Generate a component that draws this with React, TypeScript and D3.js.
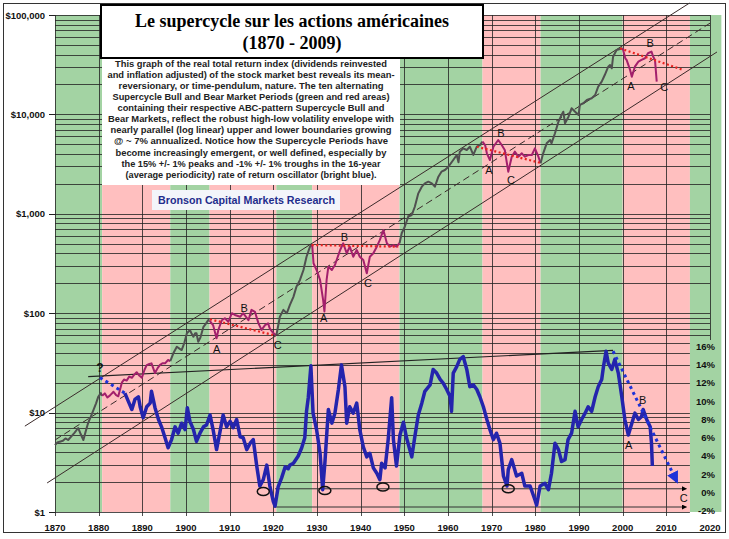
import React from 'react';
import * as d3 from 'd3';

// ---------- DATA ----------
const decadeYears = [1870, 1880, 1890, 1900, 1910, 1920, 1930, 1940, 1950, 1960, 1970, 1980, 1990, 2000, 2010, 2020];
const dollarTicks = [1, 10, 100, 1000, 10000, 100000];
const dollarLabels = ['$1', '$10', '$100', '$1,000', '$10,000', '$100,000'];
const pctTicks = [-2, 0, 2, 4, 6, 8, 10, 12, 14, 16];

// supercycle periods: [start, end, type]
const periods: [number, number, string][] = [
  [1870, 1880.8, 'bull'], [1880.8, 1896.4, 'bear'], [1896.4, 1905.4, 'bull'], [1905.4, 1920.7, 'bear'],
  [1920.7, 1928.9, 'bull'], [1928.9, 1948.9, 'bear'], [1948.9, 1967.9, 'bull'], [1967.9, 1981.2, 'bear'],
  [1981.2, 2000, 'bull'], [2000, 2015.4, 'bear'], [2015.4, 2022.6, 'bull'],
];

// real total return index (log scale)
const priceSeries: [number, number][] = [
  [1870, 4.7], [1870.5, 5.0], [1871.1, 5.1], [1871.8, 5.2], [1872.4, 5.5], [1873, 5.3], [1873.8, 5.8], [1874.5, 6.3],
  [1875.3, 7.0], [1875.8, 6.2], [1876.5, 5.3], [1877, 6.4], [1877.6, 7.9], [1878.2, 9.1], [1878.8, 10.6], [1879.4, 12.4],
  [1879.9, 14.4], [1880.5, 15.7], [1880.8, 14.8],
  [1881.4, 15.6], [1882, 14.2], [1882.6, 14.9], [1883.4, 16.2], [1884, 15.0], [1884.5, 14.6], [1885.3, 20], [1885.8, 21.5],
  [1886.4, 21], [1887, 23], [1887.6, 22.4], [1888.2, 24.2], [1888.7, 25.5], [1889.3, 23.6], [1889.9, 22.4], [1890.5, 27],
  [1891, 30], [1891.6, 30.8], [1892.1, 31.3], [1892.9, 25], [1893.5, 28], [1894, 30], [1894.6, 31.4], [1895.2, 31.3],
  [1895.9, 33.8], [1896.4, 33],
  [1897.1, 39.5], [1897.9, 46], [1898.5, 44], [1899, 42.6], [1899.6, 50], [1900.2, 62.8], [1900.9, 67.8], [1901.3, 62],
  [1901.7, 58], [1902.1, 63], [1902.4, 62.8], [1902.8, 51.7], [1903.3, 57], [1904, 73], [1904.6, 79], [1905.1, 85.5], [1905.4, 84],
  [1906.2, 76], [1907, 56], [1907.4, 67.8], [1908.2, 85], [1908.9, 89], [1909.7, 82], [1910.5, 100], [1911.2, 96],
  [1912.4, 92], [1913.1, 100], [1914.3, 85], [1915, 108], [1915.8, 103], [1916.6, 79], [1917.3, 68], [1918.1, 76],
  [1918.8, 79], [1919.2, 70], [1920, 63], [1920.7, 60],
  [1921.5, 92], [1922.3, 108], [1923.1, 100], [1923.8, 121], [1924.6, 146], [1925.3, 185], [1926.1, 216], [1926.9, 272],
  [1927.6, 370], [1928.4, 467], [1928.9, 490],
  [1929.2, 318], [1929.9, 272], [1930.7, 216], [1931.4, 136], [1931.7, 104], [1932.2, 216], [1932.6, 294], [1933.4, 272],
  [1934.1, 305], [1934.5, 343], [1935.3, 432], [1936, 505], [1936.8, 401], [1937.5, 467], [1938.3, 370], [1939.1, 432],
  [1939.8, 370], [1940.6, 343], [1941.4, 252], [1942.1, 370], [1942.9, 401], [1943.7, 467], [1944.4, 546], [1945.2, 687],
  [1946, 505], [1946.7, 467], [1947.5, 485], [1948.2, 467], [1948.9, 505],
  [1949.4, 637], [1950.1, 741], [1950.9, 935], [1951.7, 972], [1952.4, 1178], [1953.2, 1606], [1954, 1874], [1954.7, 2027],
  [1955.5, 2104], [1956.3, 2027], [1957, 1874], [1957.8, 2362], [1958.5, 2652], [1959.3, 2758], [1960.1, 2978],
  [1961.2, 3477], [1962, 3906], [1962.4, 3300], [1962.7, 4217], [1963.5, 4560], [1964.3, 4385], [1965, 4731], [1965.8, 3906],
  [1966.6, 4731], [1967.3, 4920], [1967.9, 5312],
  [1968.5, 4920], [1968.9, 4060], [1969.6, 3477], [1970.4, 4731], [1971.5, 5528], [1972.3, 4920], [1973, 4385],
  [1973.8, 2652], [1974.6, 3755], [1975.3, 4217], [1976.1, 3755], [1976.9, 4060], [1977.6, 3755], [1978.4, 3906],
  [1979.2, 3906], [1979.9, 4560], [1980.7, 3755], [1981.2, 3222],
  [1981.8, 4060], [1982.6, 5117], [1983.4, 5528], [1983.7, 5117], [1984.5, 6457], [1985.3, 8453], [1986, 9863],
  [1986.4, 10650], [1986.8, 8131], [1987.6, 9480], [1988.3, 11520], [1989.1, 10650], [1989.9, 9863], [1990.2, 12450],
  [1991, 12950], [1991.8, 13960], [1992.9, 14520], [1993.7, 15670], [1994.4, 19000], [1995.2, 21330], [1995.9, 24900],
  [1996.7, 30200], [1997.1, 31400], [1997.5, 29100], [1997.8, 38000], [1998.6, 44400], [2000, 46200],
  [2000.3, 41200], [2000.6, 36700], [2000.9, 35300], [2001.7, 28000], [2002.1, 23900], [2002.8, 30200], [2003.6, 33900],
  [2004.3, 35300], [2005.1, 36700], [2005.8, 41200], [2006.6, 42800], [2007, 38000], [2007.4, 35300], [2007.8, 21330],
];

// 16-year rate of return oscillator (%)
const oscillator: [number, number][] = [
  [1886, 10.5], [1886.8, 9.6], [1887.6, 8.7], [1888.3, 9.8], [1889.1, 10.1], [1889.5, 9.0], [1890.2, 7.8], [1891, 9.0],
  [1891.8, 9.4], [1892.1, 10.7], [1892.9, 8.9], [1893.7, 7.6], [1894.4, 6.8], [1895.2, 5.6], [1895.9, 4.5], [1896.7, 5.4],
  [1897.5, 6.8], [1898.2, 6.1], [1899, 7.2], [1899.8, 6.5], [1900.3, 8.9], [1900.9, 7.4], [1901.7, 6.5], [1902.4, 5.2],
  [1903.2, 6.1], [1904, 6.8], [1904.7, 7.0], [1905.5, 8.1], [1906.2, 6.5], [1907, 4.3], [1907.8, 6.3], [1908.5, 8.1],
  [1909.3, 6.8], [1910.1, 7.4], [1910.8, 6.7], [1911.6, 7.6], [1912.4, 5.7], [1913.1, 5.6], [1913.9, 4.3], [1914.7, 5.0],
  [1915.4, 5.4], [1916.2, 2.5], [1916.9, 0.3], [1917.7, 1.0], [1918.5, 2.6], [1919.2, 0.3], [1920, -1.4], [1920.4, -1.9],
  [1921.1, 0.2], [1921.9, 1.2], [1922.7, 2.4], [1923.4, 2.2], [1923.8, 2.6], [1924.6, 2.8], [1925.7, 3.6], [1926.5, 4.5],
  [1927.2, 5.6], [1927.6, 8.5], [1928, 10.0], [1928.6, 13.5], [1929.1, 8.3], [1929.9, 6.5], [1930.7, 3.9], [1931.3, -0.1],
  [1931.8, 2.8], [1932.6, 8.7], [1933.4, 7.2], [1934.1, 8.3], [1934.9, 10.9], [1935.6, 13.6], [1936.4, 11.2], [1936.8, 7.2],
  [1937.5, 9.0], [1938.3, 8.3], [1939.1, 9.4], [1939.8, 6.5], [1940.6, 4.6], [1941.4, 3.5], [1942.1, 3.9], [1942.9, 2.3],
  [1943.7, 1.7], [1944.4, 1.0], [1944.8, 2.8], [1945.6, 2.3], [1946.3, 5.4], [1947.1, 10.0], [1947.5, 5.4], [1948.2, 2.5],
  [1949, 5.9], [1949.8, 7.3], [1950.5, 5.6], [1951.7, 3.5], [1952.4, 5.7], [1953.2, 8.1], [1954, 9.4], [1954.7, 10.7],
  [1955.9, 11.4], [1956.6, 13.1], [1957.4, 12.7], [1958.2, 12.0], [1958.9, 11.6], [1959.7, 10.9], [1960.5, 10.1],
  [1960.8, 8.5], [1961.2, 12.7], [1962, 13.4], [1962.7, 14.2], [1963.5, 14.5], [1964.3, 13.1], [1965, 11.2], [1965.8, 11.4],
  [1966.6, 10.9], [1967.3, 10.1], [1968.1, 9.0], [1968.9, 7.6], [1969.6, 6.5], [1970.4, 5.4], [1971.1, 6.1], [1971.9, 5.0],
  [1972.7, 1.4], [1973.5, 0.3], [1973.8, 2.1], [1974.6, 3.2], [1975.7, 1.4], [1976.9, 1.7], [1977.6, 0.3], [1978.8, 0.3],
  [1979.9, -1.2], [1980.3, -1.8], [1981.1, 0.3], [1982.2, 0.6], [1983, -0.1], [1983.7, 1.7], [1984.5, 5.0], [1985.3, 4.3],
  [1986, 3.0], [1986.8, 3.2], [1987.5, 5.4], [1988.3, 6.1], [1989.1, 8.5], [1989.8, 6.8], [1990.6, 7.6], [1991.4, 8.3],
  [1992.1, 9.0], [1992.9, 8.5], [1993.7, 10.1], [1994.4, 11.2], [1995.2, 12.0], [1995.6, 13.4], [1996.2, 15.1],
  [1996.7, 13.8], [1997.5, 13.1], [1998.2, 14.2], [1999, 12.7], [1999.8, 10.1], [2000.5, 7.6], [2001.3, 5.9],
  [2002.1, 7.2], [2002.8, 8.3], [2003.6, 7.6], [2004.3, 7.9], [2004.7, 8.7], [2005.5, 7.6], [2006.3, 6.8], [2006.6, 5.0],
  [2006.8, 2.5],
];

// channel lines (log-linear envelope ~7%/yr)
const channelUpper: [number, number][] = [[1863.1, 7.31], [2015.3, 131800]];
const channelMid: [number, number][] = [[1870, 5.3], [2020, 82800]];
const channelLower: [number, number][] = [[1868.2, 1.96], [2021.6, 42460]];

// red dotted bear-market lines
const bearLines: [number, number][][] = [
  [[1905.5, 86.9], [1919.9, 60.4]],
  [[1928.8, 485], [1948.6, 467]],
  [[1966.6, 4731], [1981.5, 3222]],
  [[1999.4, 46200], [2013.9, 28000]],
];

const oscTrend: [number, number][] = [[1877.6, 12.3], [1997.8, 15.2]];
const oscDotStart: [number, number][] = [[1880.3, 12.2], [1886, 10.5]];
const oscDotEnd: [number, number][] = [[1997.8, 15.1], [2012.4, 0.8]];
const troughLines: [number, number][][] = [[[1920.4, 0], [2014.6, 0]], [[1920.4, -2], [2014.6, -2]]];
const troughCircles: [number, number][] = [[1917.7, -0.3], [1931.8, -0.2], [1945.1, 0.2], [1973.8, 0]];

const priceLabels: [number, number, string][] = [
  [1907.0, 43.3, 'A'], [1913.3, 112, 'B'], [1921.0, 48.4, 'C'],
  [1931.5, 89.5, 'A'], [1936.3, 584, 'B'], [1941.7, 200, 'C'],
  [1969.4, 2760, 'A'], [1972.1, 6500, 'B'], [1974.4, 2188, 'C'],
  [2001.9, 19450, 'A'], [2006.3, 51900, 'B'], [2009.5, 19000, 'C'],
];
const oscLabels: [number, number, string][] = [[2001.4, 4.8, 'A'], [2004.6, 9.7, 'B'], [2014, -1.0, 'C']];
const questionMark: [number, number] = [1880.3, 27.9];

const titleLines = ['Le supercycle sur les actions américaines', '(1870 - 2009)'];
const paragraph = [
  'This graph of the real total return index (dividends reinvested',
  'and inflation adjusted) of the stock market best reveals its mean-',
  'reversionary, or time-pendulum, nature.  The ten alternating',
  'Supercycle Bull and Bear Market Periods (green and red areas)',
  'containing their respective ABC-pattern Supercycle Bull and',
  'Bear Markets, reflect the robust high-low volatility envelope with',
  'nearly parallel (log linear) upper and lower boundaries growing',
  '@  ~ 7% annualized.  Notice how  the Supercycle Periods have',
  'become increasingly emergent, or well defined, especially by',
  'the 15% +/- 1% peaks and -1% +/- 1% troughs in the 16-year',
  '(average periodicity) rate of return oscillator (bright blue).',
];
const paragraphWidths = [272, 287, 265, 277, 267, 286, 281, 274, 271, 259, 251];
const creditText = 'Bronson Capital Markets Research';

// ---------- COMPONENT ----------
export default function App() {
  const W = 729, H = 539;
  const x = d3.scaleLinear().domain([1870, 2020]).range([55, 710]);
  const y = d3.scaleLog().domain([1, 100000]).range([512, 15]);
  const yp = d3.scaleLinear().domain([-2, 16]).range([507, 343]);
  const priceLine = d3.line<[number, number]>().x(d => x(d[0])).y(d => y(d[1]));
  const pctLine = d3.line<[number, number]>().x(d => x(d[0])).y(d => yp(d[1]));
  const crisp = (v: number) => Math.round(v) + 0.5;

  const green = '#a3d3a3';
  const pink = '#ffbfbf';
  const gridC = '#222';
  const font = 'Arial, "Liberation Sans", sans-serif';

  // horizontal log gridlines
  const hGrid: number[] = [];
  for (let e = 0; e < 5; e++) for (let k = 1; k < 10; k++) hGrid.push(k * Math.pow(10, e));
  hGrid.push(100000);

  // price segments split by periods
  const breaks = [1880.8, 1896.4, 1905.4, 1920.7, 1928.9, 1948.9, 1967.9, 1981.2, 2000, 2100];
  const segments: { pts: [number, number][]; bear: boolean }[] = [];
  let start = 1869;
  breaks.forEach((b, i) => {
    const pts = priceSeries.filter(p => p[0] >= start && p[0] <= b);
    segments.push({ pts, bear: i % 2 === 1 });
    start = b;
  });

  const xR = x(2015.4);

  return (
    <svg width={W} height={H} style={{ position: 'absolute', left: 0, top: 0, background: '#fff' }}
      fontFamily={font}>
      <defs>
        <marker id="arrBlack" viewBox="0 0 10 10" refX="9" refY="5" markerWidth="5" markerHeight="5" orient="auto">
          <path d="M0,0 L10,5 L0,10 z" fill="#000" />
        </marker>
        <marker id="arrBlue" viewBox="0 0 10 10" refX="8" refY="5" markerWidth="4" markerHeight="4" orient="auto">
          <path d="M0,0 L10,5 L0,10 z" fill="#1e32d8" />
        </marker>
      </defs>
      <rect x={0} y={0} width={W} height={H} fill="#fff" />

      {/* period bands */}
      {periods.map((p, i) => (
        <rect key={'b' + i} x={x(p[0])} y={15} width={x(p[1]) - x(p[0])} height={512 - 15}
          fill={p[2] === 'bull' ? green : pink} />
      ))}

      {/* horizontal gridlines */}
      {hGrid.map((v, i) => {
        const yy = crisp(y(v));
        const x2 = yy < 340 ? x(2020) : xR;
        return <line key={'h' + i} x1={x(1870)} x2={x2} y1={yy} y2={yy} stroke={gridC} strokeOpacity={0.8} strokeWidth={1} />;
      })}
      {/* vertical gridlines */}
      {decadeYears.map((d, i) => {
        const xx = crisp(x(d));
        const y2 = d === 2020 ? 340 : 516;
        return <line key={'v' + i} x1={xx} x2={xx} y1={15} y2={y2} stroke={gridC} strokeOpacity={0.8} strokeWidth={1} />;
      })}
      {/* left ticks */}
      {dollarTicks.map((v, i) => (
        <line key={'lt' + i} x1={49} x2={55} y1={crisp(y(v))} y2={crisp(y(v))} stroke="#222" />
      ))}

      {/* channel lines */}
      <path d={priceLine(channelUpper) || ''} fill="none" stroke="#3a2a2a" strokeWidth={1} />
      <path d={priceLine(channelMid) || ''} fill="none" stroke="#3a2a2a" strokeWidth={1} strokeDasharray="7,4" />
      <path d={priceLine(channelLower) || ''} fill="none" stroke="#3a2a2a" strokeWidth={1} />

      {/* oscillator trend line and trough lines */}
      <path d={pctLine(oscTrend) || ''} fill="none" stroke="#222" strokeWidth={1.2} />
      {troughLines.map((l, i) => (
        <path key={'tl' + i} d={pctLine(l) || ''} fill="none" stroke="#333" strokeWidth={1} markerEnd="url(#arrBlack)" />
      ))}

      {/* price series */}
      {segments.map((s, i) => (
        <path key={'s' + i} d={priceLine(s.pts) || ''} fill="none" stroke={s.bear ? '#a3206c' : '#505050'}
          strokeWidth={2} strokeLinejoin="round" />
      ))}

      {/* red dotted bear lines */}
      {bearLines.map((l, i) => (
        <path key={'rl' + i} d={priceLine(l) || ''} fill="none" stroke="#e8231f" strokeWidth={2.2} strokeDasharray="2,2.5" />
      ))}

      {/* oscillator */}
      <path d={pctLine(oscillator) || ''} fill="none" stroke="#2424ad" strokeWidth={3.5} strokeLinejoin="round" />
      <path d={pctLine(oscDotStart) || ''} fill="none" stroke="#1e32d8" strokeWidth={3} strokeDasharray="3,3.5" />
      <path d={pctLine(oscDotEnd) || ''} fill="none" stroke="#1e32d8" strokeWidth={3} strokeDasharray="3,3.5" markerEnd="url(#arrBlue)" />

      {troughCircles.map((c, i) => (
        <ellipse key={'e' + i} cx={x(c[0])} cy={yp(c[1])} rx={6} ry={4} fill="none" stroke="#111" strokeWidth={1.5} />
      ))}

      {/* labels */}
      {priceLabels.map((l, i) => (
        <text key={'pl' + i} x={x(l[0])} y={y(l[1])} fontSize={11} textAnchor="middle" dominantBaseline="central" fill="#111">{l[2]}</text>
      ))}
      {oscLabels.map((l, i) => (
        <text key={'ol' + i} x={x(l[0])} y={yp(l[1])} fontSize={11} textAnchor="middle" dominantBaseline="central" fill="#111">{l[2]}</text>
      ))}
      <text x={x(questionMark[0])} y={y(questionMark[1])} fontSize={12} fontWeight="bold" textAnchor="middle" dominantBaseline="central" fill="#111">?</text>

      {/* axes labels */}
      {dollarTicks.map((v, i) => (
        <text key={'dl' + i} x={45} y={y(v)} fontSize={9.5} fontWeight="bold" textAnchor="end" dominantBaseline="central" fill="#111">{dollarLabels[i]}</text>
      ))}
      {decadeYears.map((d, i) => (
        <text key={'yl' + i} x={x(d)} y={527} fontSize={9.5} fontWeight="bold" textAnchor="middle" dominantBaseline="central" fill="#111">{d}</text>
      ))}
      {pctTicks.map((v, i) => (
        <text key={'pt' + i} x={715} y={yp(v) + 3.5} fontSize={9.5} fontWeight="bold" textAnchor="end" dominantBaseline="central" fill="#111">{v + '%'}</text>
      ))}

      {/* text box */}
      <rect x={102} y={58} width={298} height={127} fill="#fff" />
      {paragraph.map((t, i) => (
        <text key={'p' + i} x={251} y={67 + i * 11.07} fontSize={9.3} fontWeight="bold" textAnchor="middle"
          textLength={paragraphWidths[i]} lengthAdjust="spacingAndGlyphs" fill="#222">{t}</text>
      ))}

      {/* title */}
      <rect x={101} y={5} width={382} height={53} fill="#fff" stroke="#000" strokeWidth={2} />
      <text x={292} y={27} fontSize={18} fontWeight="bold" textAnchor="middle" fontFamily='"Times New Roman", "Liberation Serif", serif' fill="#000">{titleLines[0]}</text>
      <text x={292} y={49} fontSize={18} fontWeight="bold" textAnchor="middle" fontFamily='"Times New Roman", "Liberation Serif", serif' fill="#000">{titleLines[1]}</text>

      {/* credit */}
      <rect x={152} y={190} width={188} height={20} fill="#f3f5fa" />
      <text x={158} y={204} fontSize={11.5} fontWeight="bold" fill="#1f2d8c" textLength={177} lengthAdjust="spacingAndGlyphs">{creditText}</text>

      {/* outer border */}
      <rect x={3.5} y={3.5} width={722} height={529} fill="none" stroke="#333" strokeWidth={1} />
    </svg>
  );
}
